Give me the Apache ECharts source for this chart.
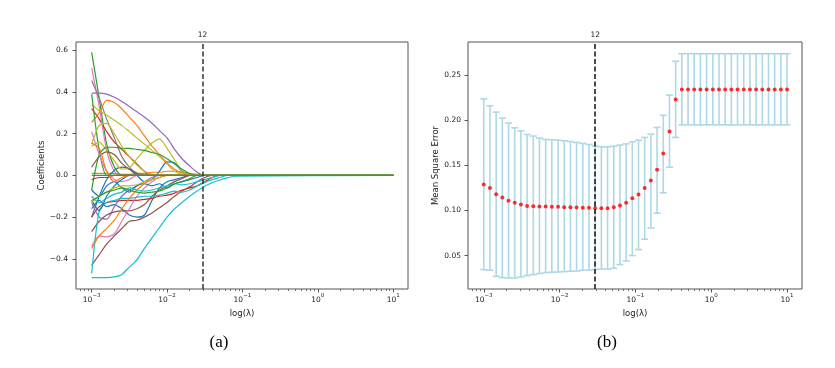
<!DOCTYPE html>
<html>
<head>
<meta charset="utf-8">
<script src="https://cdn.jsdelivr.net/npm/echarts@6/dist/echarts.min.js"></script>
<style>
html, body { margin: 0; padding: 0; background: #fff; }
#main { width: 835px; height: 368px; }
</style>
</head>
<body>
<div id="main"></div>
<script>
var chartDom = document.getElementById('main');
var myChart = echarts.init(chartDom);
var option;

// ---------- panel (a): lasso coefficient paths ----------
// lambda grid the paths are read at (last point = right end, all zero)
var pathLambda = [0.001, 0.00126, 0.00158, 0.002, 0.00251, 0.00316, 0.00398, 0.00501, 0.00631, 0.00794,
  0.01, 0.0126, 0.0158, 0.02, 0.0251, 0.0316, 0.0398, 0.0501, 0.0631, 0.0794, 10];

var purpleTop   = [0.395, 0.395, 0.39, 0.375, 0.355, 0.33, 0.305, 0.28, 0.25, 0.215, 0.18, 0.125, 0.08, 0.045, 0.015, 0, 0, 0, 0, 0, 0];
var orangeTop   = [0.255, 0.3, 0.36, 0.35, 0.32, 0.28, 0.24, 0.19, 0.14, 0.1, 0.06, 0.03, 0.012, 0.005, 0, 0, 0, 0, 0, 0, 0];
var green59     = [0.59, 0.37, 0.15, 0.04, 0, 0, 0, 0, 0, 0, 0, 0, 0, 0, 0, 0, 0, 0, 0, 0, 0];
var green39     = [0.39, 0.12, 0, 0, 0, 0, 0, 0, 0, 0, 0, 0, 0, 0, 0, 0, 0, 0, 0, 0, 0];
var greenFlat   = [-0.07, 0.1, 0.135, 0.135, 0.13, 0.13, 0.125, 0.12, 0.11, 0.1, 0.08, 0.055, 0.03, 0.008, 0, 0, 0, 0, 0, 0, 0];
var pinkTop     = [0.515, 0.33, 0.12, 0.02, 0, 0, 0, 0, 0, 0, 0, 0, 0, 0, 0, 0, 0, 0, 0, 0, 0];
var pinkNeg     = [-0.34, -0.29, -0.295, -0.28, -0.22, -0.16, -0.1, -0.06, -0.03, -0.01, 0, 0, 0, 0, 0, 0, 0, 0, 0, 0, 0];
var grayTop     = [0.455, 0.37, 0.27, 0.18, 0.09, 0.04, 0.01, 0, 0, 0, 0, 0, 0, 0, 0, 0, 0, 0, 0, 0, 0];
var oliveHump   = [0.14, 0.16, 0.12, 0.07, 0.03, 0.035, 0.08, 0.12, 0.155, 0.175, 0.13, 0.075, 0.022, 0.005, 0, 0, 0, 0, 0, 0, 0];
var oliveTop    = [0.34, 0.31, 0.29, 0.265, 0.24, 0.21, 0.18, 0.15, 0.12, 0.09, 0.055, 0.02, 0.005, 0, 0, 0, 0, 0, 0, 0, 0];
var oliveMid    = [0.15, 0.24, 0.25, 0.2, 0.14, 0.09, 0.05, 0.02, 0.005, 0, 0, 0, 0, 0, 0, 0, 0, 0, 0, 0, 0];
var oliveNeg    = [-0.13, -0.1, -0.08, -0.06, -0.05, -0.05, -0.045, -0.03, -0.02, -0.01, 0, 0, 0, 0, 0, 0, 0, 0, 0, 0, 0];
var redTop      = [0.32, 0.27, 0.21, 0.16, 0.125, 0.09, 0.055, 0.02, 0, 0, 0, 0, 0, 0, 0, 0, 0, 0, 0, 0, 0];
var redNeg      = [-0.2, -0.15, -0.13, -0.125, -0.12, -0.12, -0.12, -0.115, -0.11, -0.1, -0.095, -0.085, -0.07, -0.06, -0.05, -0.03, -0.01, 0, 0, 0, 0];
var cyanBottom  = [-0.49, -0.49, -0.49, -0.487, -0.475, -0.44, -0.405, -0.35, -0.3, -0.25, -0.2, -0.16, -0.13, -0.1, -0.075, -0.052, -0.035, -0.022, -0.012, -0.004, 0];
var cyanSteep   = [-0.47, -0.17, -0.13, -0.12, -0.11, -0.11, -0.105, -0.1, -0.1, -0.095, -0.085, -0.075, -0.08, -0.07, -0.05, -0.035, -0.02, -0.01, 0, 0, 0];
var blue1       = [-0.16, -0.12, -0.15, -0.14, -0.16, -0.19, -0.2, -0.19, -0.12, -0.06, -0.03, -0.02, -0.01, 0, 0, 0, 0, 0, 0, 0, 0];
var blue2       = [-0.2, -0.1, -0.02, 0.025, 0.04, 0.03, 0, -0.03, -0.02, 0.02, 0.065, 0.06, 0.02, 0.005, 0, 0, 0, 0, 0, 0, 0];
var blue3       = [-0.07, -0.1, -0.05, -0.03, -0.06, -0.08, -0.05, -0.04, -0.05, -0.04, -0.06, -0.04, -0.03, -0.02, -0.01, 0, 0, 0, 0, 0, 0];
var blue4       = [-0.12, -0.17, -0.1, -0.05, -0.02, 0, 0, 0, 0, 0, 0, 0, 0, 0, 0, 0, 0, 0, 0, 0, 0];
var brownLow    = [-0.43, -0.38, -0.33, -0.29, -0.255, -0.22, -0.215, -0.2, -0.18, -0.155, -0.13, -0.1, -0.075, -0.055, -0.03, -0.01, 0, 0, 0, 0, 0];
var brownMid    = [-0.27, -0.22, -0.19, -0.175, -0.17, -0.17, -0.16, -0.14, -0.1, -0.07, -0.05, -0.03, -0.015, 0, 0, 0, 0, 0, 0, 0, 0];
var brownHump   = [0.04, 0.09, 0.113, 0.1, 0.058, 0.03, 0.01, 0, 0, 0, 0, 0, 0, 0, 0, 0, 0, 0, 0, 0, 0];
var orangeNeg   = [-0.35, -0.29, -0.255, -0.215, -0.16, -0.11, -0.07, -0.04, -0.02, -0.01, 0, 0, 0, 0, 0, 0, 0, 0, 0, 0, 0];
var orangeSmall = [0.155, 0.13, 0.02, -0.03, -0.01, 0, 0, 0, 0, 0, 0, 0, 0, 0, 0, 0, 0, 0, 0, 0, 0];
var orangeZero  = [0.01, 0.01, 0.01, 0.01, 0.005, 0.005, 0.01, 0.01, 0.015, 0.015, 0.02, 0.02, 0.015, 0.01, 0.005, 0, 0, 0, 0, 0, 0];
var pinkMid     = [0.21, 0.1, 0.02, -0.02, -0.03, -0.02, 0, 0, 0, 0, 0, 0, 0, 0, 0, 0, 0, 0, 0, 0, 0];
var purpleNeg   = [-0.13, -0.2, -0.21, -0.15, -0.1, -0.07, -0.05, -0.03, -0.01, 0, 0, 0, 0, 0, 0, 0, 0, 0, 0, 0, 0];
var greenNeg    = [-0.12, -0.1, -0.08, -0.07, -0.06, -0.07, -0.08, -0.085, -0.08, -0.075, -0.06, -0.04, -0.03, -0.015, 0, 0, 0, 0, 0, 0, 0];
var redZero     = [-0.02, -0.01, -0.01, 0, 0, 0, 0, 0, 0, 0, 0, 0, 0, 0, 0, 0, 0, 0, 0, 0, 0];
var cyanMid     = [-0.1, -0.13, -0.11, -0.09, -0.08, -0.06, -0.07, -0.075, -0.07, -0.06, -0.05, -0.04, -0.045, -0.04, -0.03, -0.02, -0.01, 0, 0, 0, 0];
var greenZero   = [0, 0, 0, 0, 0, 0, 0, 0, 0, 0, 0, 0, 0, 0, 0, 0, 0, 0, 0, 0, 0];

var paths = [blue1, orangeZero, green59, redTop, purpleTop, brownLow, pinkTop, grayTop, oliveTop, cyanBottom,
  blue2, orangeTop, green39, redNeg, purpleNeg, brownMid, pinkNeg, oliveHump, cyanSteep,
  blue3, orangeNeg, greenFlat, redZero, brownHump, pinkMid, oliveMid, cyanMid,
  blue4, orangeSmall, oliveNeg, greenNeg, greenZero];
var pathColors = ['#1f77b4', '#ff7f0e', '#2ca02c', '#d62728', '#9467bd', '#8c564b', '#e377c2', '#7f7f7f', '#bcbd22', '#17becf',
  '#1f77b4', '#ff7f0e', '#2ca02c', '#d62728', '#9467bd', '#8c564b', '#e377c2', '#bcbd22', '#17becf',
  '#1f77b4', '#ff7f0e', '#2ca02c', '#d62728', '#8c564b', '#e377c2', '#bcbd22', '#17becf',
  '#1f77b4', '#ff7f0e', '#bcbd22', '#2ca02c', '#2ca02c'];

// ---------- panel (b): cross-validated MSE ----------
var cvLambda = [0.001, 0.0012068, 0.0014563, 0.0017575, 0.002121, 0.0025595, 0.0030888, 0.0037276, 0.0044984, 0.0054287,
  0.0065513, 0.007906, 0.009541, 0.011514, 0.013895, 0.016768, 0.020236, 0.024421, 0.029471, 0.035565,
  0.042919, 0.051795, 0.062506, 0.075431, 0.09103, 0.10985, 0.13257, 0.15999, 0.19307, 0.233,
  0.28118, 0.33932, 0.40949, 0.49417, 0.59636, 0.71969, 0.86851, 1.0481, 1.2649, 1.5264,
  1.8421, 2.223, 2.6827, 3.2375, 3.9069, 4.7149, 5.6899, 6.8665, 8.2864, 10.0];
var cvMean = [0.129, 0.125, 0.118, 0.1144, 0.1107, 0.1085, 0.1067, 0.1051, 0.1048, 0.1044,
  0.1044, 0.1041, 0.1041, 0.1037, 0.1037, 0.1033, 0.103, 0.103, 0.1026, 0.1026,
  0.1026, 0.1037, 0.1056, 0.1085, 0.1137, 0.1178, 0.1251, 0.1333, 0.1451, 0.1633,
  0.1878, 0.2233, 0.2344, 0.2344, 0.2344, 0.2344, 0.2344, 0.2344, 0.2344, 0.2344,
  0.2344, 0.2344, 0.2344, 0.2344, 0.2344, 0.2344, 0.2344, 0.2344, 0.2344, 0.2344];
var cvUpper = [0.224, 0.2162, 0.2092, 0.2026, 0.197, 0.1918, 0.1884, 0.1844, 0.1826, 0.1803,
  0.1789, 0.1785, 0.1781, 0.1774, 0.1766, 0.1755, 0.1744, 0.1733, 0.1714, 0.1707,
  0.1707, 0.1714, 0.1726, 0.174, 0.1762, 0.1781, 0.1811, 0.1848, 0.1922, 0.2056,
  0.2281, 0.2656, 0.274, 0.274, 0.274, 0.274, 0.274, 0.274, 0.274, 0.274,
  0.274, 0.274, 0.274, 0.274, 0.274, 0.274, 0.274, 0.274, 0.274, 0.274];
var cvLower = [0.0344, 0.0337, 0.027, 0.0256, 0.0251, 0.0251, 0.0262, 0.0278, 0.0289, 0.03,
  0.0311, 0.0315, 0.0318, 0.0322, 0.0326, 0.0329, 0.0337, 0.034, 0.0344, 0.0351,
  0.0351, 0.0359, 0.04, 0.044, 0.05, 0.0567, 0.0681, 0.0807, 0.097, 0.1196,
  0.1481, 0.1811, 0.1951, 0.1951, 0.1951, 0.1951, 0.1951, 0.1951, 0.1951, 0.1951,
  0.1951, 0.1951, 0.1951, 0.1951, 0.1951, 0.1951, 0.1951, 0.1951, 0.1951, 0.1951];

var bestLambda = 0.029471;
var bestLabel = '12';

// tick labels
var xTickExp = [-3, -2, -1, 0, 1];
var coefTicks = [-0.4, -0.2, 0, 0.2, 0.4, 0.6];
var mseTicks = [0.05, 0.1, 0.15, 0.2, 0.25];

var minorTicks = [];
for (var k = -4; k <= 1; k++) {
  for (var m = 2; m <= 9; m++) {
    var v = Math.log10(m) + k;
    if (v > -3.208 && v < 1.197) minorTicks.push(v);
  }
}

var font = 'DejaVu Sans';
var textCol = '#222';
var frameCol = '#555';

function xMain(gridIndex) {
  return {
    type: 'value', gridIndex: gridIndex, min: -3.208, max: 1.197,
    axisLine: { show: false, onZero: false },
    splitLine: { show: false },
    axisTick: { customValues: xTickExp, length: 3.5, lineStyle: { color: frameCol, width: 1 } },
    axisLabel: {
      customValues: xTickExp, margin: 4, color: textCol, fontFamily: font,
      formatter: function (v) {
        return '{b|10}{e|' + String(Math.round(v)).replace('-', '\u2212') + '}';
      },
      rich: {
        b: { fontSize: 7.5, lineHeight: 11, verticalAlign: 'bottom', color: textCol, fontFamily: font },
        e: { fontSize: 5.5, lineHeight: 6, verticalAlign: 'top', color: textCol, fontFamily: font }
      }
    },
    name: 'log(\u03bb)', nameLocation: 'middle', nameGap: 16,
    nameTextStyle: { fontSize: 8.5, color: textCol, fontFamily: font }
  };
}
function xMinor(gridIndex) {
  return {
    type: 'value', gridIndex: gridIndex, min: -3.208, max: 1.197, position: 'bottom',
    axisLine: { show: false, onZero: false },
    splitLine: { show: false },
    axisLabel: { show: false },
    axisTick: { customValues: minorTicks, length: 2, lineStyle: { color: frameCol, width: 0.8 } }
  };
}

var series = [];
paths.forEach(function (arr, idx) {
  series.push({
    type: 'line', xAxisIndex: 0, yAxisIndex: 0,
    symbol: 'none', silent: true, smooth: 0.25,
    lineStyle: { width: 1.2, color: pathColors[idx] },
    data: pathLambda.map(function (l, i) { return [Math.log10(l), arr[i]]; })
  });
});
// dashed line at the chosen lambda, panel (a)
series.push({
  type: 'line', xAxisIndex: 0, yAxisIndex: 0, data: [], symbol: 'none',
  markLine: {
    silent: true, symbol: 'none',
    lineStyle: { color: '#333', type: [5, 2.5], width: 1.5 },
    label: { show: true, position: 'end', formatter: bestLabel, distance: 3, fontSize: 7.5, color: textCol, fontFamily: font },
    data: [{ xAxis: Math.log10(bestLambda) }]
  }
});
// error bars, panel (b)
series.push({
  type: 'custom', xAxisIndex: 2, yAxisIndex: 1, silent: true,
  data: cvLambda.map(function (l, i) { return [Math.log10(l), cvLower[i], cvUpper[i]]; }),
  encode: { x: 0, y: [1, 2] },
  renderItem: function (params, api) {
    var x = api.value(0);
    var lo = api.coord([x, api.value(1)]);
    var hi = api.coord([x, api.value(2)]);
    var cap = 3.5;
    var st = { stroke: '#add8e6', lineWidth: 1.6 };
    return {
      type: 'group',
      children: [
        { type: 'line', shape: { x1: lo[0], y1: lo[1], x2: hi[0], y2: hi[1] }, style: st },
        { type: 'line', shape: { x1: lo[0] - cap, y1: lo[1], x2: lo[0] + cap, y2: lo[1] }, style: st },
        { type: 'line', shape: { x1: hi[0] - cap, y1: hi[1], x2: hi[0] + cap, y2: hi[1] }, style: st }
      ]
    };
  }
});
series.push({
  type: 'scatter', xAxisIndex: 2, yAxisIndex: 1, silent: true,
  symbolSize: 4, itemStyle: { color: '#ff0000' },
  data: cvLambda.map(function (l, i) { return [Math.log10(l), cvMean[i]]; }),
  markLine: {
    silent: true, symbol: 'none',
    lineStyle: { color: '#111', type: [5, 2.5], width: 1.5 },
    label: { show: true, position: 'end', formatter: bestLabel, distance: 3, fontSize: 7.5, color: textCol, fontFamily: font },
    data: [{ xAxis: Math.log10(bestLambda) }]
  }
});

option = {
  animation: false,
  backgroundColor: '#fff',
  grid: [
    { left: 76, top: 42, width: 332, height: 247, show: true, borderColor: frameCol, borderWidth: 1 },
    { left: 468, top: 42, width: 334, height: 247, show: true, borderColor: frameCol, borderWidth: 1 }
  ],
  xAxis: [xMain(0), xMinor(0), xMain(1), xMinor(1)],
  yAxis: [
    {
      type: 'value', gridIndex: 0, min: -0.545, max: 0.64,
      axisLine: { show: false, onZero: false }, splitLine: { show: false },
      axisTick: { customValues: coefTicks, length: 3.5, lineStyle: { color: frameCol } },
      axisLabel: {
        customValues: coefTicks, margin: 8, fontSize: 7.5, color: textCol, fontFamily: font,
        formatter: function (v) { return v.toFixed(1).replace('-', '\u2212'); }
      },
      name: 'Coefficients', nameLocation: 'middle', nameGap: 30,
      nameTextStyle: { fontSize: 8.5, color: textCol, fontFamily: font }
    },
    {
      type: 'value', gridIndex: 1, min: 0.0129, max: 0.287,
      axisLine: { show: false, onZero: false }, splitLine: { show: false },
      axisTick: { customValues: mseTicks, length: 3.5, lineStyle: { color: frameCol } },
      axisLabel: {
        customValues: mseTicks, margin: 7, fontSize: 7.5, color: textCol, fontFamily: font,
        formatter: function (v) { return v.toFixed(2); }
      },
      name: 'Mean Square Error', nameLocation: 'middle', nameGap: 28,
      nameTextStyle: { fontSize: 8.5, color: textCol, fontFamily: font }
    }
  ],
  graphic: [
    { type: 'text', x: 219, y: 343, style: { text: '(a)', font: '17px "Liberation Serif"', fill: '#000', textAlign: 'center', textVerticalAlign: 'middle' } },
    { type: 'text', x: 607, y: 343, style: { text: '(b)', font: '17px "Liberation Serif"', fill: '#000', textAlign: 'center', textVerticalAlign: 'middle' } }
  ],
  series: series
};

option && myChart.setOption(option);
</script>
</body>
</html>
